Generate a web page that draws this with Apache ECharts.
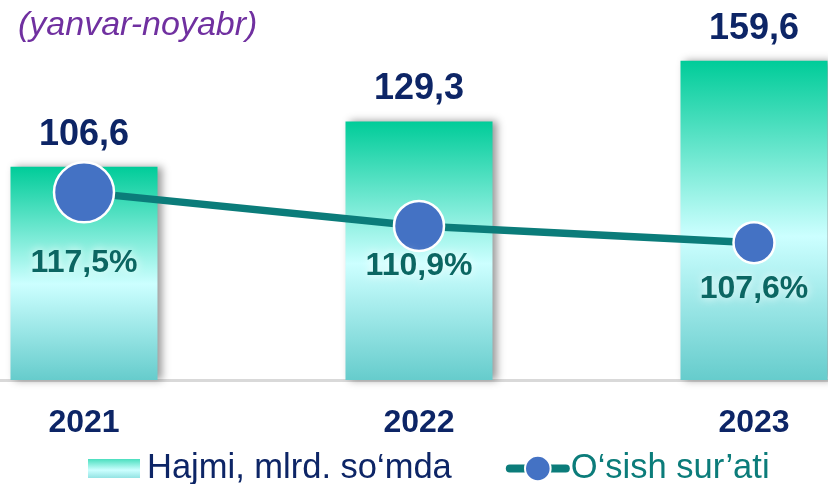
<!DOCTYPE html>
<html>
<head>
<meta charset="utf-8">
<script src="https://cdn.jsdelivr.net/npm/echarts@6/dist/echarts.min.js"></script>
<style>
  html, body { margin: 0; padding: 0; background: #fff; }
  #chart { width: 828px; height: 484px; }
</style>
</head>
<body>
<div id="chart"></div>
<script>
// data
const years = ['2021', '2022', '2023'];
const volume = [106.6, 129.3, 159.6];   // Hajmi, mlrd. so'mda
const growth = [117.5, 110.9, 107.6];   // O'sish sur'ati, %

const seriesNames = ['Hajmi, mlrd. so‘mda', 'O‘sish sur’ati'];

// look
const navy = '#0d2566';
const teal = '#0b7c7a';
const font = 'Liberation Sans, Arial, sans-serif';
const markerSizes = [60, 50, 41];
const growthLabelShift = [71, 40, 46];

let comma = (v) => String(v).replace('.', ',');

let barFill = new echarts.graphic.LinearGradient(0, 0, 0, 1, [
  { offset: 0, color: '#00cc99' },
  { offset: 0.55, color: '#ccffff' },
  { offset: 1, color: '#66cccc' }
]);

// legend box is 52x32, the bar swatch only fills the middle 19px of it
const swatchIcon = 'path://M0,0M0,6.5L52,6.5L52,25.5L0,25.5ZM52,32';

let chart = echarts.init(document.getElementById('chart'));
chart.setOption({
  animation: false,
  textStyle: { fontFamily: font },
  title: {
    text: '(yanvar-noyabr)',
    left: 18,
    top: 9,
    padding: 0,
    textStyle: {
      fontFamily: font,
      fontSize: 34,
      fontStyle: 'italic',
      fontWeight: 'normal',
      color: '#7030a0'
    }
  },
  legend: {
    left: 88,
    top: 451,
    padding: 0,
    itemWidth: 56,
    itemHeight: 32,
    itemGap: 54,
    textStyle: { fontFamily: font, fontSize: 34.5 },
    data: [
      { name: seriesNames[0], icon: swatchIcon, textStyle: { color: navy } },
      { name: seriesNames[1], textStyle: { color: teal }, lineStyle: { width: 8, cap: 'round' } }
    ]
  },
  grid: [
    { left: 84, right: 74, top: 20, bottom: 104 },
    { left: 0, right: 0, top: 20, bottom: 104 }
  ],
  xAxis: [
    {
      type: 'category',
      data: years,
      boundaryGap: false,
      axisLine: { show: false },
      axisTick: { show: false },
      axisLabel: {
        margin: 27,
        fontFamily: font,
        fontSize: 32,
        fontWeight: 'bold',
        color: navy
      }
    },
    {
      // full-width baseline
      gridIndex: 1,
      type: 'value',
      axisLine: { show: true, lineStyle: { color: '#d9d9d9', width: 3 } },
      axisTick: { show: false },
      axisLabel: { show: false },
      splitLine: { show: false }
    }
  ],
  yAxis: [
    { type: 'value', min: 0, max: 180, show: false, splitLine: { show: false } },
    { type: 'value', min: 80.6, max: 151.4, show: false, splitLine: { show: false } },
    { gridIndex: 1, type: 'value', show: false, splitLine: { show: false } }
  ],
  series: [
    {
      name: seriesNames[0],
      type: 'bar',
      barWidth: 147,
      clip: false,
      z: 3,
      data: volume,
      itemStyle: {
        color: barFill,
        shadowColor: 'rgba(0,0,0,0.4)',
        shadowBlur: 8,
        shadowOffsetX: 4,
        shadowOffsetY: 0
      },
      label: {
        show: true,
        position: 'top',
        distance: 14,
        fontFamily: font,
        fontSize: 36,
        fontWeight: 'bold',
        color: navy,
        formatter: (p) => comma(p.value)
      }
    },
    {
      name: seriesNames[1],
      type: 'line',
      yAxisIndex: 1,
      z: 5,
      clip: false,
      symbol: 'circle',
      data: growth.map((v, i) => ({
        value: v,
        symbolSize: markerSizes[i],
        label: { offset: [0, growthLabelShift[i]] }
      })),
      lineStyle: { color: teal, width: 7.5 },
      itemStyle: { color: '#4472c4', borderColor: '#fff', borderWidth: 2.5 },
      label: {
        show: true,
        position: 'inside',
        fontFamily: font,
        fontSize: 32,
        fontWeight: 'bold',
        color: '#0b6662',
        textShadowColor: '#fff',
        textShadowBlur: 10,
        formatter: (p) => comma(p.value) + '%'
      }
    }
  ]
});
</script>
</body>
</html>
